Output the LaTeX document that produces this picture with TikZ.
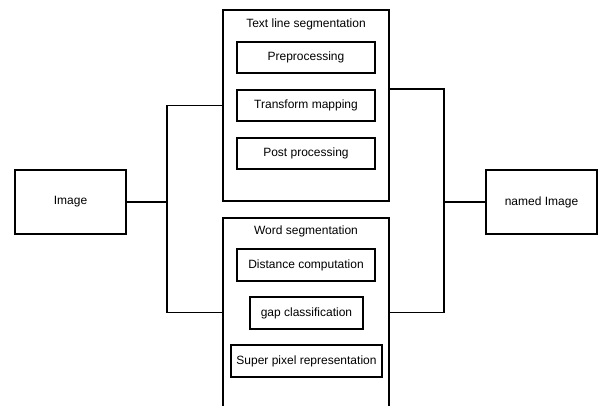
\documentclass[tikz,border=0pt]{standalone}
\usepackage{fontspec}
\setmainfont{Liberation Sans}
\begin{document}
\begin{tikzpicture}[x=1pt,y=-1pt,
  box/.style={draw, line width=1.1pt, inner sep=0pt, font=\fontsize{12}{14}\selectfont},
  lbl/.style={inner sep=0pt, font=\fontsize{12}{14}\selectfont},
  conn/.style={line width=1.1pt}]
\useasboundingbox (0,0) rectangle (602,406);
\clip (0,0) rectangle (602,406);
% outer boxes
\node[box, minimum width=111, minimum height=64] (img) at (70.5,202) {Image};
\node[box, minimum width=111, minimum height=64] (named) at (541.5,202) {named Image};
\node[box, minimum width=166, minimum height=191] (tls) at (306,105.5) {};
\node[box, minimum width=166, minimum height=189] (ws) at (306,312.5) {};
% titles
\node[lbl] (tlst) at (306,24) {Text line segmentation};
\node[lbl] (wst) at (306,231) {Word segmentation};
% inner boxes
\node[box, minimum width=138, minimum height=31] (pre) at (306,57.5) {Preprocessing};
\node[box, minimum width=138, minimum height=31] (tm) at (306,105.5) {Transform mapping};
\node[box, minimum width=138, minimum height=31] (pp) at (306,153.5) {Post processing};
\node[box, minimum width=138, minimum height=32] (dc) at (306,265) {Distance computation};
\node[box, minimum width=113, minimum height=32] (gc) at (306.5,313) {gap classification};
\node[box, minimum width=151, minimum height=32] (sp) at (306.5,361) {Super pixel representation};
% connectors
\coordinate (jl) at (167,201);
\coordinate (jr) at (444,201);
\coordinate (jrt) at (444,89);
\draw[conn] (img.east) -- (img.east -| jl);
\draw[conn] (tls.west) -| (jl) |- (ws.west);
\draw[conn] (tls.east |- jrt) -- (jrt) |- (ws.east);
\draw[conn] (named.west) -- (named.west -| jr);
\end{tikzpicture}
\end{document}
